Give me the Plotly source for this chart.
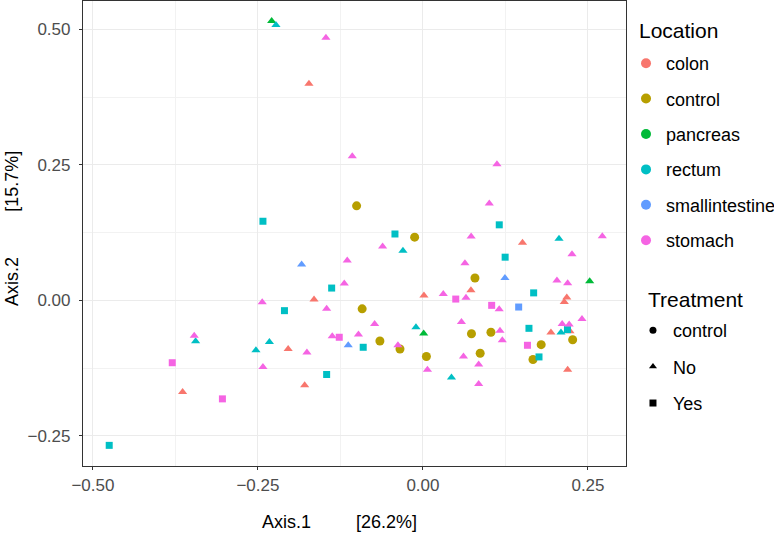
import plotly.graph_objects as go

# ---- data (Axis.1, Axis.2 coordinates) ----
colon_no_x = [-0.1727, -0.165, 0.0015, 0.0727, 0.1508, 0.2179, 0.2141, 0.1939, 0.2227, 0.2192, -0.2042, -0.1792, -0.3641]
colon_no_y = [0.400, 0.0015, 0.0092, 0.0188, 0.1064, 0.0055, -0.003, -0.0595, -0.0571, -0.1282, -0.0899, -0.1565, -0.1689]

control_ctl_x = [-0.1005, -0.0126, -0.0921, -0.0652, -0.0348, 0.0052, 0.0788, 0.0735, 0.1030, 0.0867, 0.1791, 0.1667, 0.2268]
control_ctl_y = [0.1744, 0.1166, -0.0157, -0.0751, -0.0897, -0.1037, 0.0413, -0.0617, -0.0589, -0.0976, -0.0818, -0.1092, -0.0727]

pancreas_no_x = [-0.2292, 0.0011, 0.2526]
pancreas_no_y = [0.5157, -0.0613, 0.0355]

rectum_no_x = [-0.2227, -0.0303, 0.2061, -0.0106, 0.2091, 0.0432, -0.3444, -0.2326, -0.2530]
rectum_no_y = [0.5083, 0.0917, 0.1136, -0.0497, -0.0595, -0.1422, -0.0755, -0.0768, -0.0921]
rectum_yes_x = [-0.2424, -0.0424, 0.1156, 0.1245, 0.1677, 0.1606, 0.2189, 0.1758, -0.1383, -0.2098, -0.0905, -0.1459, -0.4753]
rectum_yes_y = [0.1460, 0.1225, 0.1394, 0.0797, 0.0138, -0.0516, -0.0540, -0.1044, 0.0227, -0.0190, -0.0866, -0.1368, -0.2676]

small_no_x = [-0.1838, 0.1242, -0.1132]
small_no_y = [0.0663, 0.0414, -0.0829]
small_yes_x = [0.1450]
small_yes_y = [-0.0123]

stomach_no_x = [-0.1470, -0.1071, 0.1121, 0.1005, 0.0730, 0.2717, -0.0611, -0.1147, 0.2258, 0.0636,
                -0.1192, 0.2030, 0.2192, 0.0308, 0.0652, 0.1155, -0.2435, -0.1459, -0.0732, -0.1374,
                -0.0977, -0.0379, 0.2409, 0.2109, 0.2215, 0.0583, 0.1167, 0.1202, 0.0614, 0.0844,
                0.0844, 0.0068, -0.3465, -0.1758, -0.2424]
stomach_no_y = [0.4849, 0.2661, 0.2510, 0.1786, 0.1179, 0.1182, 0.0994, 0.0737, 0.0851, 0.0685,
                0.0313, 0.0368, 0.0317, 0.0116, 0.0046, -0.0166, -0.0037, -0.0157, -0.0438, -0.0663,
                -0.0632, -0.0829, -0.0346, -0.0435, -0.0446, -0.0401, -0.0562, -0.0737, -0.1037, -0.1182,
                -0.1543, -0.1280, -0.0654, -0.0963, -0.1228]
stomach_yes_x = [0.0497, 0.1041, -0.1268, 0.1583, -0.3798, -0.3038]
stomach_yes_y = [0.0024, -0.0092, -0.0681, -0.0829, -0.1151, -0.1818]

locations = ["colon", "control", "pancreas", "rectum", "smallintestine", "stomach"]
treatments = ["control", "No", "Yes"]
x_ticks = [-0.50, -0.25, 0.00, 0.25]
y_ticks = [-0.25, 0.00, 0.25, 0.50]

# ---- styles ----
colors = {"colon": "#F8766D", "control": "#B79F00", "pancreas": "#00BA38",
          "rectum": "#00BFC4", "smallintestine": "#619CFF", "stomach": "#F564E3"}
symbols = {"control": "circle", "No": "triangle-up", "Yes": "square"}
msize = {"control": 9, "No": 8, "Yes": 7}

series = [
    ("colon", "No", colon_no_x, colon_no_y),
    ("control", "control", control_ctl_x, control_ctl_y),
    ("pancreas", "No", pancreas_no_x, pancreas_no_y),
    ("rectum", "No", rectum_no_x, rectum_no_y),
    ("rectum", "Yes", rectum_yes_x, rectum_yes_y),
    ("smallintestine", "No", small_no_x, small_no_y),
    ("smallintestine", "Yes", small_yes_x, small_yes_y),
    ("stomach", "No", stomach_no_x, stomach_no_y),
    ("stomach", "Yes", stomach_yes_x, stomach_yes_y),
]

font = "Liberation Sans, Arial, sans-serif"
fig = go.Figure()
for loc, trt, xs, ys in series:
    fig.add_trace(go.Scatter(
        x=xs, y=ys, mode="markers", showlegend=False,
        marker=dict(color=colors[loc], symbol=symbols[trt], size=msize[trt], line=dict(width=0)),
        hovertemplate=f"{loc} / {trt}<br>%{{x}}, %{{y}}<extra></extra>"))

# legend entries: Location
for loc in locations:
    fig.add_trace(go.Scatter(
        x=[None], y=[None], mode="markers", name=loc, legend="legend",
        legendgroup=loc, marker=dict(color=colors[loc], symbol="circle", size=10)))
# legend entries: Treatment
for trt in treatments:
    fig.add_trace(go.Scatter(
        x=[None], y=[None], mode="markers", name=trt, legend="legend2",
        legendgroup="t_" + trt, marker=dict(color="black", symbol=symbols[trt], size=7)))

minor_grid = dict(showgrid=True, gridcolor="#F2F2F2", gridwidth=0.6)
axis_common = dict(
    showgrid=True, gridcolor="#EBEBEB", gridwidth=1.1,
    zeroline=False, showline=True, linecolor="#333333", linewidth=1.2, mirror=True,
    ticks="outside", ticklen=3, tickcolor="#333333", tickwidth=1,
    tickfont=dict(family=font, size=17, color="#4D4D4D"),
    tickformat=".2f", automargin=False,
)

fig.update_layout(
    width=774, height=533,
    margin=dict(l=83, r=148, t=1, b=67, autoexpand=False),
    paper_bgcolor="white", plot_bgcolor="white",
    font=dict(family=font, size=12, color="black"),
    xaxis=dict(axis_common, range=[-0.515, 0.3076], tickvals=x_ticks,
               minor=dict(minor_grid, tickvals=[-0.375, -0.125, 0.125])),
    yaxis=dict(axis_common, range=[-0.3057, 0.5525], tickvals=y_ticks, ticklabelstandoff=5,
               minor=dict(minor_grid, tickvals=[-0.125, 0.125, 0.375])),
    legend=dict(xref="container", yref="container", x=0.8088, xanchor="left", y=0.9156, yanchor="top",
                font=dict(family=font, size=18), tracegroupgap=9, traceorder="grouped",
                bgcolor="rgba(0,0,0,0)"),
    legend2=dict(xref="container", yref="container", x=0.8178, xanchor="left", y=0.4146, yanchor="top",
                 font=dict(family=font, size=18), tracegroupgap=10, traceorder="grouped",
                 bgcolor="rgba(0,0,0,0)"),
    annotations=[
        dict(text="Location", x=1.0203, y=0.9376, xref="paper", yref="paper",
             xanchor="left", yanchor="middle", showarrow=False,
             font=dict(family=font, size=21, color="black")),
        dict(text="Treatment", x=1.0368, y=0.357, xref="paper", yref="paper",
             xanchor="left", yanchor="middle", showarrow=False,
             font=dict(family=font, size=21, color="black")),
        dict(text="Axis.1" + "&nbsp;" * 9 + "[26.2%]", x=0.473, y=-0.1204, xref="paper", yref="paper",
             xanchor="center", yanchor="middle", showarrow=False,
             font=dict(family=font, size=18, color="black")),
        dict(text="Axis.2" + "&nbsp;" * 9 + "[15.7%]", x=-0.1308, y=0.512, xref="paper", yref="paper",
             xanchor="center", yanchor="middle", showarrow=False, textangle=-90,
             font=dict(family=font, size=18, color="black")),
    ],
)

fig.write_html("out.html", post_script="document.body.style.margin='0';",
               config={"displayModeBar": False})
